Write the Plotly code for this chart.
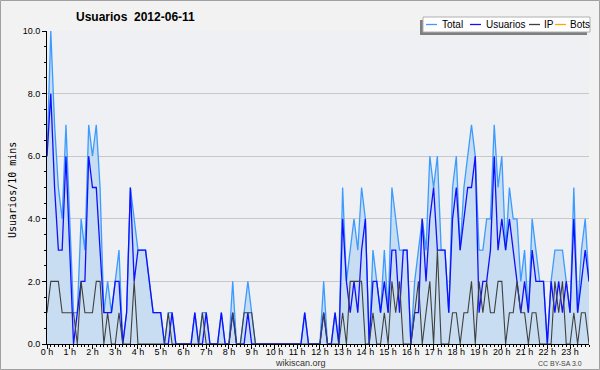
import plotly.graph_objects as go

# 10-minute slots over the day (minutes since midnight)
slots = list(range(0, 1440, 10))

hour_labels = ["0 h", "1 h", "2 h", "3 h", "4 h", "5 h", "6 h", "7 h", "8 h", "9 h",
               "10 h", "11 h", "12 h", "13 h", "14 h", "15 h", "16 h", "17 h", "18 h",
               "19 h", "20 h", "21 h", "22 h", "23 h"]

total = [
    6, 10, 7, 5, 4, 7, 4, 1, 1, 4, 3, 7,
    6, 7, 5, 1, 2, 1, 2, 3, 0, 1, 5, 4,
    3, 3, 3, 2, 1, 1, 1, 0, 1, 1, 0, 0,
    0, 0, 0, 1, 0, 1, 1, 0, 0, 0, 1, 0,
    0, 2, 0, 0, 1, 2, 1, 0, 0, 0, 0, 0,
    0, 0, 0, 0, 0, 0, 0, 0, 1, 0, 0, 0,
    0, 2, 0, 0, 1, 0, 5, 2, 3, 4, 3, 5,
    4, 0, 3, 2, 1, 3, 1, 5, 4, 3, 3, 3,
    0, 2, 3, 4, 3, 6, 5, 6, 3, 3, 1, 5,
    6, 3, 5, 6, 7, 6, 3, 3, 4, 4, 7, 5,
    6, 3, 5, 4, 4, 2, 3, 1, 4, 3, 2, 2,
    0, 2, 3, 3, 3, 2, 1, 5, 1, 3, 4, 2,
]

usuarios = [
    6, 8, 5, 3, 3, 6, 3, 0, 1, 2, 2, 6,
    5, 5, 3, 1, 1, 1, 2, 2, 0, 1, 5, 2,
    3, 3, 3, 2, 1, 1, 1, 0, 0, 1, 0, 0,
    0, 0, 0, 1, 0, 0, 1, 0, 0, 0, 1, 0,
    0, 1, 0, 0, 0, 1, 0, 0, 0, 0, 0, 0,
    0, 0, 0, 0, 0, 0, 0, 0, 1, 0, 0, 0,
    0, 1, 0, 0, 1, 0, 4, 2, 1, 2, 1, 3,
    4, 0, 2, 2, 1, 2, 1, 3, 3, 1, 3, 3,
    0, 1, 1, 4, 2, 4, 5, 3, 3, 3, 1, 4,
    5, 3, 4, 5, 5, 6, 1, 2, 2, 3, 6, 3,
    4, 3, 4, 3, 2, 1, 2, 1, 3, 2, 2, 2,
    0, 2, 1, 2, 1, 2, 1, 4, 1, 2, 3, 2,
]

ip = [
    1, 2, 2, 2, 1, 1, 1, 1, 0, 2, 1, 1,
    1, 2, 2, 0, 1, 0, 0, 1, 0, 0, 0, 2,
    0, 0, 0, 0, 0, 0, 0, 0, 1, 0, 0, 0,
    0, 0, 0, 0, 0, 1, 0, 0, 0, 0, 0, 0,
    0, 1, 0, 0, 1, 1, 1, 0, 0, 0, 0, 0,
    0, 0, 0, 0, 0, 0, 0, 0, 0, 0, 0, 0,
    0, 1, 0, 0, 0, 0, 1, 0, 2, 2, 2, 2,
    0, 0, 1, 0, 0, 1, 0, 2, 1, 2, 0, 0,
    0, 1, 2, 0, 1, 2, 0, 3, 0, 0, 0, 1,
    1, 0, 1, 1, 2, 0, 2, 1, 2, 1, 1, 2,
    2, 0, 1, 1, 2, 1, 1, 0, 1, 1, 0, 0,
    0, 0, 2, 1, 2, 0, 0, 1, 0, 1, 1, 0,
]

bots = [
    0, 0, 0, 0, 0, 0, 0, 0, 0, 0, 0, 0,
    0, 0, 0, 0, 0, 0, 0, 0, 0, 0, 0, 0,
    0, 0, 0, 0, 0, 0, 0, 0, 0, 0, 0, 0,
    0, 0, 0, 0, 0, 0, 0, 0, 0, 0, 0, 0,
    0, 0, 0, 0, 0, 0, 0, 0, 0, 0, 0, 0,
    0, 0, 0, 0, 0, 0, 0, 0, 0, 0, 0, 0,
    0, 0, 0, 0, 0, 0, 0, 0, 0, 0, 0, 0,
    0, 0, 0, 0, 0, 0, 0, 0, 0, 0, 0, 0,
    0, 0, 0, 0, 0, 0, 0, 0, 0, 0, 0, 0,
    0, 0, 0, 0, 0, 0, 0, 0, 0, 0, 0, 0,
    0, 0, 0, 0, 0, 0, 0, 0, 0, 0, 0, 0,
    0, 0, 0, 0, 0, 0, 0, 0, 0, 0, 0, 0,
]

series_names = ["Total", "Usuarios", "IP", "Bots"]
series_colors = ["#3C9BFF", "#1010FF", "#404040", "#FFA500"]

W, H = 600, 370
L, R, T, B = 47, 11, 31, 26
PW, PH = W - L - R, H - T - B


def px(x):
    return (x - L) / PW


def py(y):
    return (H - B - y) / PH


fig = go.Figure()

fig.add_trace(go.Scatter(x=slots, y=bots, mode="lines", name="Bots",
                         line=dict(color=series_colors[3], width=1), showlegend=False))
fig.add_trace(go.Scatter(x=slots, y=total, mode="lines", name="Total", fill="tozeroy",
                         fillcolor="#C8DDF1",
                         line=dict(color=series_colors[0], width=1.3), showlegend=False))
fig.add_trace(go.Scatter(x=slots, y=usuarios, mode="lines", name="Usuarios",
                         line=dict(color=series_colors[1], width=1.3), showlegend=False))
fig.add_trace(go.Scatter(x=slots, y=ip, mode="lines", name="IP",
                         line=dict(color=series_colors[2], width=1.1), showlegend=False))

tick_font = dict(family="Liberation Sans, Arial, sans-serif", size=9, color="#000000")

fig.update_layout(
    width=W, height=H, autosize=False,
    margin=dict(l=L, r=R, t=T, b=B, pad=0),
    paper_bgcolor="#F2F2F2",
    plot_bgcolor="#EFF0F3",
    showlegend=False,
    xaxis=dict(
        range=[slots[0], slots[-1]],
        tickvals=[h * 60 for h in range(len(hour_labels))],
        ticktext=hour_labels,
        ticks="outside", ticklen=4, tickcolor="#000000", tickwidth=1,
        showline=True, linecolor="#000000", linewidth=1,
        showgrid=False, zeroline=False,
        tickfont=tick_font, ticklabelstandoff=-5,
        minor=dict(ticks="outside", ticklen=2, dtick=10, tick0=0, tickcolor="#000000", showgrid=False),
    ),
    yaxis=dict(
        range=[0, 10], dtick=2, tick0=0, tickformat=".1f",
        ticks="outside", ticklen=4, tickcolor="#000000", tickwidth=1,
        showline=True, linecolor="#000000", linewidth=1,
        showgrid=True, gridcolor="#C8C8C8", gridwidth=1, zeroline=False,
        tickfont=tick_font,
        minor=dict(ticks="outside", ticklen=2, dtick=0.5, tickcolor="#000000", showgrid=False),
    ),
)

annotations = [
    dict(text="<b>Usuarios  2012-06-11</b>", x=px(135), y=py(17), xref="paper", yref="paper",
         showarrow=False, xanchor="center", yanchor="middle",
         font=dict(family="Liberation Sans, Arial, sans-serif", size=12, color="#000000")),
    dict(text="Usuarios/10 mins", x=px(12), y=py(190), xref="paper", yref="paper",
         showarrow=False, textangle=-90, xanchor="center", yanchor="middle",
         font=dict(family="DejaVu Sans Mono, monospace", size=10, color="#000000")),
    dict(text="wikiscan.org", x=px(300), y=py(363), xref="paper", yref="paper",
         showarrow=False, xanchor="center", yanchor="middle",
         font=dict(family="Liberation Sans, Arial, sans-serif", size=9, color="#333333")),
    dict(text="CC BY-SA 3.0", x=px(584), y=py(363), xref="paper", yref="paper",
         showarrow=False, xanchor="right", yanchor="middle",
         font=dict(family="Liberation Sans, Arial, sans-serif", size=7, color="#444444")),
]

shapes = [
    # outer border
    dict(type="rect", xref="paper", yref="paper", x0=px(0.5), x1=px(599.5), y0=py(0.5), y1=py(369.5),
         line=dict(color="#A0A0A0", width=1), fillcolor="rgba(0,0,0,0)", layer="above"),
    # legend shadow and box
    dict(type="rect", xref="paper", yref="paper", x0=px(420), x1=px(587), y0=py(20), y1=py(35),
         line=dict(width=0), fillcolor="#7F7F7F", layer="above"),
    dict(type="rect", xref="paper", yref="paper", x0=px(423), x1=px(590), y0=py(17), y1=py(32),
         line=dict(color="#B0B0B0", width=1), fillcolor="#FFFFFF", layer="above"),
]

legend_line_x = [426, 470, 529, 555]
legend_text_x = [440, 484, 542, 568]
for name, color, lx, tx in zip(series_names, series_colors, legend_line_x, legend_text_x):
    shapes.append(dict(type="line", xref="paper", yref="paper", x0=px(lx), x1=px(lx + 11),
                       y0=py(24.5), y1=py(24.5), line=dict(color=color, width=1.3), layer="above"))
    annotations.append(dict(text=name, x=px(tx), y=py(24.5), xref="paper", yref="paper",
                            showarrow=False, xanchor="left", yanchor="middle",
                            font=dict(family="Liberation Sans, Arial, sans-serif", size=10, color="#000000")))

fig.update_layout(annotations=annotations, shapes=shapes)

fig.write_html("out.html",
               config={"displayModeBar": False, "staticPlot": True},
               post_script="document.body.style.margin='0';document.body.style.padding='0';"
                           "document.body.style.overflow='hidden';")
